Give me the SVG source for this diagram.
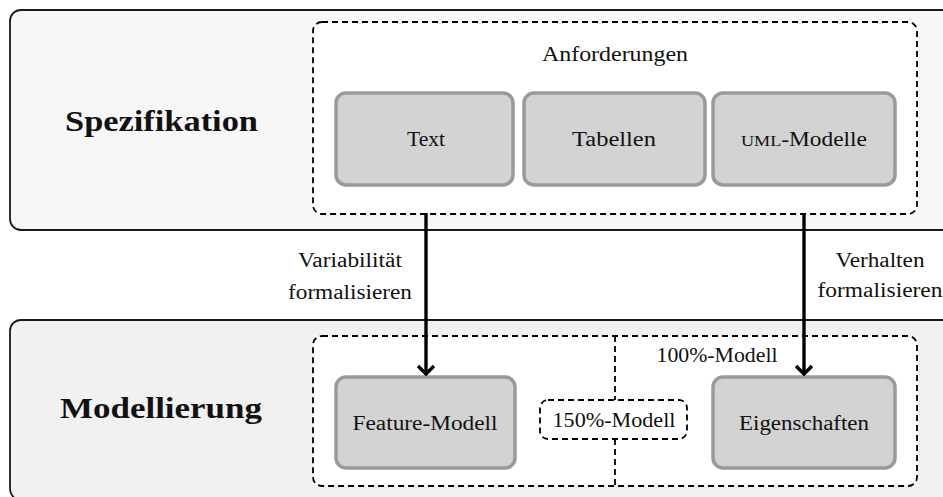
<svg xmlns="http://www.w3.org/2000/svg" width="943" height="497" viewBox="0 0 943 497">
  <style>
    .panel { stroke: #1a1a1a; stroke-width: 1.8; }
    .group { fill: #ffffff; stroke: #000; stroke-width: 1.8; stroke-dasharray: 6 4; }
    .box { fill: #d3d3d3; stroke: #9a9a9a; stroke-width: 3.5; }
    .t { font-family: "Liberation Serif", "DejaVu Serif", serif; font-size: 20px; fill: #111; text-anchor: middle; }
    .h { font-family: "Liberation Serif", "DejaVu Serif", serif; font-size: 30px; font-weight: bold; fill: #111; text-anchor: middle; }
    .sc { font-size: 15.5px; }
    .conn { stroke: #000; stroke-width: 3.4; fill: none; }
  </style>
  <defs>
    <marker id="chevron" viewBox="-10 -10 12 20" markerUnits="userSpaceOnUse" markerWidth="12" markerHeight="20" refX="0" refY="0" orient="auto">
      <path d="M-8,-8 L0,0 L-8,8" fill="none" stroke="#000" stroke-width="3.4"/>
    </marker>
  </defs>

  <rect width="943" height="497" fill="#ffffff"/>

  <!-- Spezifikation layer -->
  <g id="spezifikation">
    <rect class="panel" x="10" y="10" width="950" height="220" rx="11" fill="#f7f7f7"/>
    <text class="h" x="161.5" y="131" textLength="193" lengthAdjust="spacingAndGlyphs">Spezifikation</text>
  </g>

  <g id="anforderungen">
    <rect class="group" x="313" y="22" width="604" height="192" rx="9"/>
    <text class="t" x="615" y="61" textLength="146" lengthAdjust="spacingAndGlyphs">Anforderungen</text>
  </g>

  <g id="text">
    <rect class="box" x="336" y="93" width="177" height="92" rx="10"/>
    <text class="t" x="426" y="146" textLength="38" lengthAdjust="spacingAndGlyphs">Text</text>
  </g>

  <g id="tabellen">
    <rect class="box" x="524" y="93" width="181" height="92" rx="10"/>
    <text class="t" x="614" y="146" textLength="84" lengthAdjust="spacingAndGlyphs">Tabellen</text>
  </g>

  <g id="uml-modelle">
    <rect class="box" x="713" y="93" width="182" height="92" rx="10"/>
    <text class="t" x="804" y="146" textLength="126" lengthAdjust="spacingAndGlyphs"><tspan class="sc">UML</tspan>-Modelle</text>
  </g>

  <!-- Modellierung layer -->
  <g id="modellierung">
    <rect class="panel" x="10" y="320" width="950" height="180" rx="11" fill="#f1f1f1"/>
    <text class="h" x="161" y="418" textLength="202" lengthAdjust="spacingAndGlyphs">Modellierung</text>
  </g>

  <g id="modelle">
    <rect class="group" x="313" y="336" width="604" height="150" rx="9"/>
    <path class="group" d="M615,336 V400 M615,439 V486" fill="none"/>
    <text class="t" x="717" y="362" textLength="121" lengthAdjust="spacingAndGlyphs">100%-Modell</text>
  </g>

  <g id="modell-150">
    <rect class="group" x="540" y="400" width="147" height="39" rx="8"/>
    <text class="t" x="614" y="427" textLength="123" lengthAdjust="spacingAndGlyphs">150%-Modell</text>
  </g>

  <g id="feature-modell">
    <rect class="box" x="336" y="377" width="179" height="91" rx="10"/>
    <text class="t" x="425" y="430" textLength="145" lengthAdjust="spacingAndGlyphs">Feature-Modell</text>
  </g>

  <g id="eigenschaften">
    <rect class="box" x="713" y="377" width="182" height="91" rx="10"/>
    <text class="t" x="804" y="430" textLength="130" lengthAdjust="spacingAndGlyphs">Eigenschaften</text>
  </g>

  <!-- Connectors -->
  <g id="connectors">
    <line class="conn" x1="426" y1="213" x2="426" y2="374" marker-end="url(#chevron)"/>
    <line class="conn" x1="804" y1="213" x2="804" y2="374" marker-end="url(#chevron)"/>
    <text class="t" x="350" y="267" textLength="104" lengthAdjust="spacingAndGlyphs">Variabilität</text>
    <text class="t" x="350" y="299" textLength="124" lengthAdjust="spacingAndGlyphs">formalisieren</text>
    <text class="t" x="880" y="267" textLength="89" lengthAdjust="spacingAndGlyphs">Verhalten</text>
    <text class="t" x="880" y="297" textLength="125" lengthAdjust="spacingAndGlyphs">formalisieren</text>
  </g>
</svg>
